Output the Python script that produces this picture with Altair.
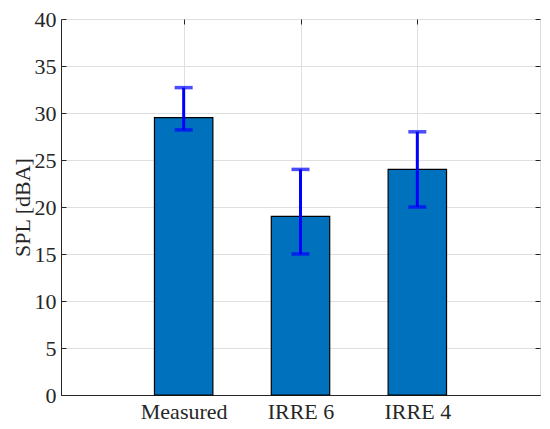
import altair as alt
import pandas as pd

categories = ["Measured", "IRRE 6", "IRRE 4"]
positions = [1, 2, 3]
spl = [29.5, 19.0, 24.0]
err_low = [28.2, 15.0, 20.0]
err_high = [32.7, 24.0, 28.0]
y_ticks = [0, 5, 10, 15, 20, 25, 30, 35, 40]

df = pd.DataFrame({"cat": categories, "pos": positions, "spl": spl,
                   "lo": err_low, "hi": err_high})

FONT = "Liberation Serif"
AX = "#262626"
FS = 22
xs = alt.Scale(domain=[-0.05, 4.05], nice=False, zero=False, padding=0)
ys = alt.Scale(domain=[0, 40], nice=False, padding=0)
label_expr = "datum.value == 1 ? 'Measured' : datum.value == 2 ? 'IRRE 6' : datum.value == 3 ? 'IRRE 4' : ''"

base = alt.Chart(df)

bars = base.transform_calculate(
    x0="datum.pos - 0.25", x1="datum.pos + 0.25"
).mark_bar(color="#0072BD", stroke="black", strokeWidth=1.2).encode(
    x=alt.X("x0:Q", scale=xs, axis=alt.Axis(
        orient="bottom", values=positions, labelExpr=label_expr, title=None,
        grid=True, gridColor="#dfdfdf", gridWidth=1, ticks=False,
        domainColor=AX, labelColor=AX, labelFont=FONT, labelFontSize=FS,
        labelPadding=6)),
    x2="x1:Q",
    y=alt.Y("spl:Q", scale=ys, axis=alt.Axis(
        orient="left", values=y_ticks, title="SPL [dBA]", grid=True,
        gridColor="#dfdfdf", gridWidth=1, ticks=False, domainColor=AX,
        labelColor=AX, labelFont=FONT, labelFontSize=FS, labelPadding=5,
        titleFont=FONT, titleFontSize=FS, titleFontWeight="normal",
        titleColor=AX, titlePadding=0)),
    y2=alt.datum(0),
)

tick_axis = dict(labels=False, domain=False, grid=False, ticks=True,
                 tickSize=5, tickColor=AX, tickWidth=1, offset=-5, title=None)

rules = base.mark_rule(color="#0000FF", strokeWidth=3).encode(
    x=alt.X("pos:Q", scale=xs, axis=alt.Axis(orient="bottom", values=positions, **tick_axis)),
    y=alt.Y("lo:Q", scale=ys, axis=alt.Axis(orient="left", values=y_ticks, **tick_axis)),
    y2="hi:Q",
)

caps = base.transform_fold(["lo", "hi"], as_=["k", "v"]).mark_tick(
    color="#0000FF", orient="horizontal", size=18, thickness=3.5
).encode(
    x=alt.X("pos:Q", scale=xs, axis=alt.Axis(orient="top", values=positions, **tick_axis)),
    y=alt.Y("v:Q", scale=ys, axis=alt.Axis(orient="right", values=y_ticks, **tick_axis)),
)

chart = alt.layer(bars, rules, caps).resolve_axis(
    x="independent", y="independent"
).properties(
    width=479, height=376,
    autosize=alt.AutoSizeParams(type="none"),
    padding={"left": 53, "top": 11, "right": 2, "bottom": 30},
).configure_view(stroke=AX, strokeWidth=1).configure(background="white")

chart.save("out.html", embed_options={"renderer": "svg", "actions": False})
